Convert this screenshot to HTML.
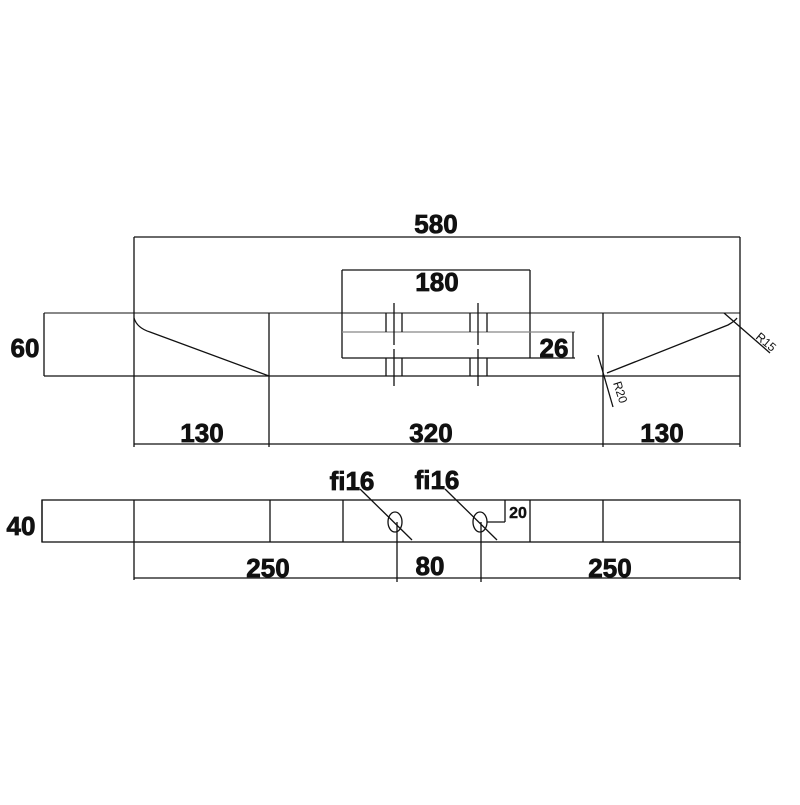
<!DOCTYPE html>
<html><head><style>body{margin:0;background:#fff}</style></head><body>
<svg width="800" height="800" viewBox="0 0 800 800" xmlns="http://www.w3.org/2000/svg" font-family="Liberation Sans, sans-serif" font-weight="bold">
<g stroke="#111" stroke-width="1.3" fill="none">
<line x1="44" y1="313" x2="740" y2="313" stroke-width="1"/>
<line x1="44" y1="376" x2="740" y2="376"/>
<line x1="134" y1="237" x2="134" y2="447"/>
<line x1="740" y1="237" x2="740" y2="447"/>
<line x1="269" y1="313" x2="269" y2="447"/>
<line x1="603" y1="313" x2="603" y2="447"/>
<line x1="134" y1="237" x2="740" y2="237"/>
<line x1="134" y1="444" x2="740" y2="444"/>
<line x1="44" y1="313" x2="44" y2="376"/>
<line x1="342" y1="270" x2="530" y2="270"/>
<line x1="342" y1="270" x2="342" y2="358"/>
<line x1="530" y1="270" x2="530" y2="358"/>
<line x1="342" y1="332" x2="575" y2="332" stroke="#888"/>
<line x1="342" y1="358" x2="575" y2="358"/>
<line x1="573" y1="332" x2="573" y2="358"/>
<line x1="386" y1="313" x2="386" y2="332"/><line x1="402" y1="313" x2="402" y2="332"/>
<line x1="386" y1="358" x2="386" y2="376"/><line x1="402" y1="358" x2="402" y2="376"/>
<line x1="394" y1="303" x2="394" y2="345"/><line x1="394" y1="349" x2="394" y2="386"/>
<line x1="470" y1="313" x2="470" y2="332"/><line x1="487" y1="313" x2="487" y2="332"/>
<line x1="470" y1="358" x2="470" y2="376"/><line x1="487" y1="358" x2="487" y2="376"/>
<line x1="478" y1="303" x2="478" y2="345"/><line x1="478" y1="349" x2="478" y2="386"/>
<path d="M134 318 Q137 328 150 332 L269 376"/>
<path d="M607 373 L728 325 Q735 321 737 318"/>
<line x1="598" y1="355" x2="613" y2="407"/>
<line x1="724" y1="313" x2="770" y2="353"/>
<rect x="42" y="500" width="698" height="42"/>
<line x1="134" y1="500" x2="134" y2="580"/>
<line x1="270" y1="500" x2="270" y2="542"/>
<line x1="343" y1="500" x2="343" y2="542"/>
<line x1="530" y1="500" x2="530" y2="542"/>
<line x1="603" y1="500" x2="603" y2="542"/>
<line x1="740" y1="542" x2="740" y2="580"/>
<ellipse cx="395" cy="522" rx="7" ry="10"/>
<ellipse cx="480" cy="522" rx="7" ry="10"/>
<line x1="360" y1="489" x2="412" y2="540"/>
<line x1="445" y1="489" x2="497" y2="540"/>
<line x1="397" y1="522" x2="397" y2="582"/>
<line x1="481" y1="522" x2="481" y2="582"/>
<line x1="487" y1="522" x2="505" y2="522"/>
<line x1="505" y1="500" x2="505" y2="522"/>
<line x1="134" y1="578" x2="740" y2="578"/>
<line x1="42" y1="500" x2="42" y2="542"/>
</g>
<g fill="#111" stroke="#111" stroke-width="0.8" font-size="26">
<text x="436" y="233" text-anchor="middle">580</text>
<text x="437" y="291" text-anchor="middle">180</text>
<text x="554" y="357" text-anchor="middle">26</text>
<text x="25" y="357" text-anchor="middle">60</text>
<text x="202" y="442" text-anchor="middle">130</text>
<text x="431" y="442" text-anchor="middle">320</text>
<text x="662" y="442" text-anchor="middle">130</text>
<text x="21" y="535" text-anchor="middle">40</text>
<text x="352" y="490" text-anchor="middle">fi16</text>
<text x="437" y="489" text-anchor="middle">fi16</text>
<text x="268" y="577" text-anchor="middle">250</text>
<text x="430" y="575" text-anchor="middle">80</text>
<text x="610" y="577" text-anchor="middle">250</text>
<text x="518" y="518" text-anchor="middle" font-size="16" stroke-width="0.4">20</text>
</g>
<g fill="#111" font-size="12" font-weight="normal">
<text x="0" y="0" transform="translate(755,338) rotate(40)">R15</text>
<text x="0" y="0" transform="translate(613,383) rotate(72)">R20</text>
</g>
</svg>
</body></html>
